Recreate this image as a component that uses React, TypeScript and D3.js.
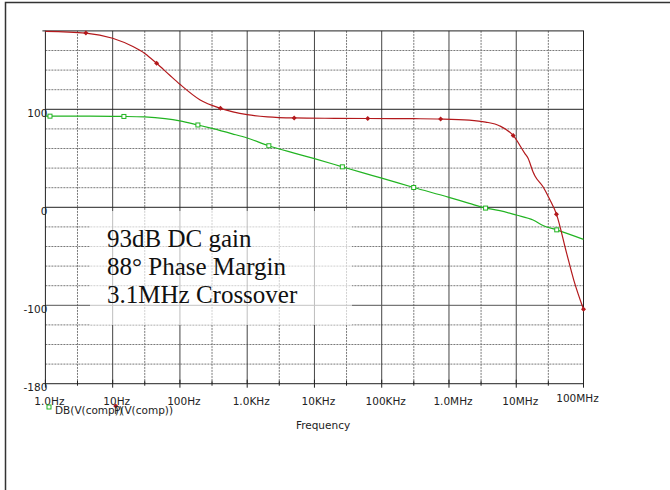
import React from "react";
import * as d3 from "d3";

// ---- data ----
const dbFreq = [1, 1.17, 3, 10, 14.7, 30, 60, 100, 185, 300, 600, 1000, 2100, 5000, 10000, 26000, 50000, 100000, 299000, 1e6, 2e6, 3.5e6, 5.7e6, 1e7, 1.78e7, 2.5e7, 4e7, 1e8];
const dbVals = [93.0, 93.0, 93.0, 92.8, 92.7, 92.2, 90.5, 88.2, 84.0, 80.5, 75.0, 70.7, 62.8, 55.3, 49.6, 41.3, 35.6, 29.8, 20.2, 10.2, 4.0, -0.8, -3.4, -7.9, -13.0, -18.5, -23.0, -32.7];
const dbMarkers = [1.17, 14.7, 185, 2100, 26000, 299000, 3.5e6, 4e7];

const phFreq = [1, 4, 10, 20, 30, 45, 70, 100, 200, 400, 1000, 2000, 5000, 20000, 62000, 300000, 751000, 2e6, 3.5e6, 5.7e6, 9e6, 1.34e7, 1.5e7, 1.78e7, 1.9e7, 2.5e7, 3.15e7, 3.96e7, 5.57e7, 7.15e7, 1e8];
const phVals = [179.6, 177.8, 172.5, 164, 157, 147, 135, 125.5, 109.5, 101, 94.5, 92.3, 91.2, 90.8, 90.6, 90.4, 90.1, 89, 87, 83, 73.3, 55, 50, 36, 32, 21, 8, -7, -46, -74, -104];
const phMarkers = [4, 45, 400, 5000, 62000, 751000, 9e6, 3.96e7, 1e8];

const decades = [1, 10, 100, 1e3, 1e4, 1e5, 1e6, 1e7, 1e8];
const xTickLabels = ["1.0Hz", "10Hz", "100Hz", "1.0KHz", "10KHz", "100KHz", "1.0MHz", "10MHz", "100MHz"];
const minorX = [3, 30, 300, 3e3, 3e4, 3e5, 3e6, 3e7];
const yGrid = [-160, -140, -120, -80, -60, -40, -20, 20, 40, 60, 80, 120, 140, 160];
const yMajor = [100, 0, -100];
const yTickLabels = [100, 0, -100, -180];
const notes = ["93dB DC gain", "88\u00b0 Phase Margin", "3.1MHz Crossover"];
const legendNames = ["DB(V(comp))", "P(V(comp))"];

const GREEN = "#22b422";
const RED = "#b3191c";
const SANS = "'DejaVu Sans', sans-serif";

export default function App() {
  const L = 45.4, R = 583.5, T = 30.9, B = 383.7;
  const x = d3.scaleLog().domain([1, 1e8]).range([L, R]);
  const y = d3.scaleLinear().domain([-180, 180]).range([B, T]);

  const line = d3
    .line<[number, number]>()
    .x((d) => x(d[0]))
    .y((d) => y(d[1]))
    .curve(d3.curveMonotoneX);

  const dbData: [number, number][] = dbFreq.map((f, i) => [f, dbVals[i]]);
  const phData: [number, number][] = phFreq.map((f, i) => [f, phVals[i]]);
  const dbM = dbData.filter((d) => dbMarkers.includes(d[0]));
  const phM = phData.filter((d) => phMarkers.includes(d[0]));

  return (
    <svg width={670} height={490} style={{ position: "absolute", left: 0, top: 0, background: "#fff" }}>
      {/* outer frame */}
      <path d="M5.5,490 V2.5 H670" fill="none" stroke="#333" strokeWidth={1.5} />

      {/* dotted grid */}
      {yGrid.map((v) => (
        <line key={"hg" + v} x1={L} x2={R} y1={y(v)} y2={y(v)} stroke="#7a7a7a" strokeWidth={1} strokeDasharray="2,1" />
      ))}
      {minorX.map((f) => (
        <line key={"vg" + f} x1={x(f)} x2={x(f)} y1={T} y2={B} stroke="#7a7a7a" strokeWidth={1} strokeDasharray="2,1" />
      ))}
      {/* solid grid */}
      {decades.slice(1, -1).map((f) => (
        <line key={"vd" + f} x1={x(f)} x2={x(f)} y1={T} y2={B} stroke="#444" strokeWidth={1} />
      ))}
      {yMajor.map((v) => (
        <line key={"hm" + v} x1={L} x2={R} y1={y(v)} y2={y(v)} stroke={v === -100 ? "#555" : "#222"} strokeWidth={1} />
      ))}

      {/* annotation box */}
      <rect x={90} y={211} width={262} height={114} fill="#fff" fillOpacity={0.65} />

      {/* plot border */}
      <rect x={L} y={T} width={R - L} height={B - T} fill="none" stroke="#222" strokeWidth={1} />
      <line x1={L - 3} x2={L} y1={T} y2={T} stroke="#222" />

      {/* x ticks */}
      {decades.map((f) => (
        <line key={"xt" + f} x1={x(f)} x2={x(f)} y1={B - 4} y2={B + 4} stroke="#222" />
      ))}
      {minorX.map((f) => (
        <line key={"xm" + f} x1={x(f)} x2={x(f)} y1={B - 3} y2={B + 2} stroke="#222" />
      ))}

      {/* curves */}
      <path d={line(dbData) || ""} fill="none" stroke={GREEN} strokeWidth={1.2} />
      <path d={line(phData) || ""} fill="none" stroke={RED} strokeWidth={1.2} />
      {dbM.map((d, i) => (
        <rect key={"gm" + i} x={x(d[0]) - 2} y={y(d[1]) - 2} width={4} height={4} fill="#fff" stroke={GREEN} strokeWidth={1} />
      ))}
      {phM.map((d, i) => (
        <path key={"rm" + i} d={`M${x(d[0])},${y(d[1]) - 2.5} l2.5,2.5 l-2.5,2.5 l-2.5,-2.5 Z`} fill={RED} />
      ))}

      {/* y labels */}
      {yTickLabels.map((v) => (
        <text key={"yl" + v} x={L + 2} y={y(v) + 4} dy="0.35em" textAnchor="end" fontFamily={SANS} fontSize={10.5} fill="#222">
          {v}
        </text>
      ))}

      {/* x labels */}
      {decades.map((f, i) => {
        const last = i === decades.length - 1;
        return (
          <text key={"xl" + f} x={x(f) + (last ? -6 : 4)} y={last ? 402 : 405} textAnchor="middle" fontFamily={SANS} fontSize={10.5} fill="#222">
            {xTickLabels[i]}
          </text>
        );
      })}

      <text x={323} y={429} textAnchor="middle" fontFamily={SANS} fontSize={10.5} fill="#222">
        Frequency
      </text>

      {/* legend */}
      <rect x={47} y={405} width={4} height={4} fill="#fff" stroke={GREEN} strokeWidth={1} />
      <text x={55} y={414} fontFamily={SANS} fontSize={10.5} fill="#222">
        {legendNames[0]}
      </text>
      <path d="M115.7,403.5 l2.5,2.5 l-2.5,2.5 l-2.5,-2.5 Z" fill={RED} />
      <text x={114} y={414} fontFamily={SANS} fontSize={10.5} fill="#222">
        {legendNames[1]}
      </text>

      {/* annotation text */}
      {notes.map((t, i) => (
        <text key={"n" + i} x={107} y={246.7 + i * 28.3} fontFamily="'Liberation Serif', 'Times New Roman', serif" fontSize={25} fill="#111">
          {t}
        </text>
      ))}
    </svg>
  );
}
